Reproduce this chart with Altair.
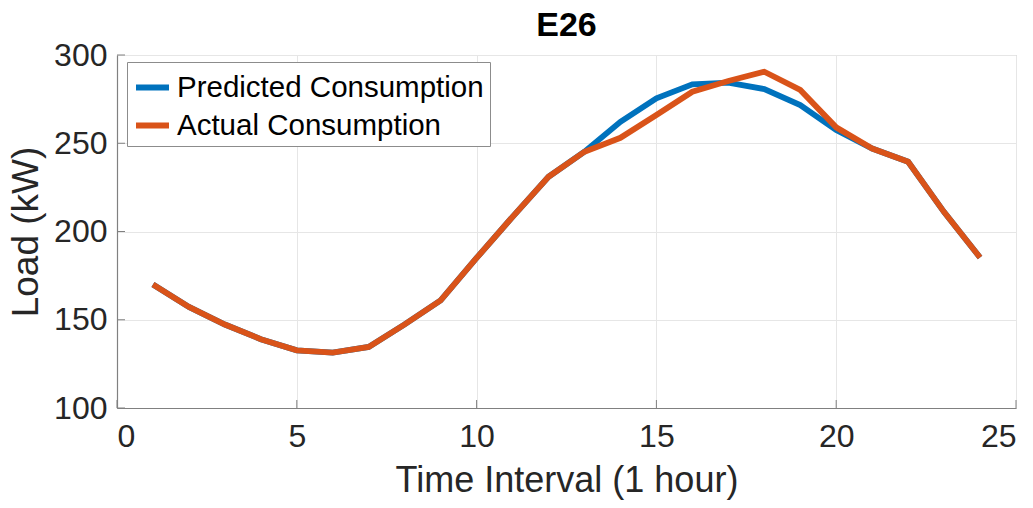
import altair as alt
import pandas as pd

hours = list(range(1, 25))
actual = [170, 157.3, 147.3, 139.0, 132.7, 131.4, 134.6, 147.4, 161, 185, 208.3, 231,
          245.2, 253.1, 266, 279.2, 285.3, 290.5, 280.2, 259, 247, 239.5, 211, 185.3]
predicted = [170, 157.3, 147.3, 139.0, 132.7, 131.4, 134.6, 147.4, 161, 185, 208.3, 231,
             245.2, 262.2, 275.4, 283.4, 284.3, 280.7, 271.6, 257.5, 247, 239.5, 211, 185.3]
series = ["Predicted Consumption", "Actual Consumption"]
colors = ["#0072BD", "#D95319"]
x_ticks = [0, 5, 10, 15, 20, 25]
y_ticks = [100, 150, 200, 250, 300]

df = pd.DataFrame({
    "hour": hours * 2,
    "load": predicted + actual,
    "series": [series[0]] * 24 + [series[1]] * 24,
    "order": [0] * 24 + [1] * 24,
})
xt = pd.DataFrame({"hour": x_ticks})
yt = pd.DataFrame({"load": y_ticks})

FONT = "Liberation Sans"
TXT = "#262626"

xscale = alt.Scale(domain=[0, 25], nice=False)
yscale = alt.Scale(domain=[100, 300], nice=False, zero=False)

lines = alt.Chart(df).mark_line(strokeWidth=5.8, strokeJoin="miter", strokeCap="butt").encode(
    x=alt.X("hour:Q", scale=xscale,
            axis=alt.Axis(values=x_ticks, title="Time Interval (1 hour)",
                          titleFontSize=36, titleFontWeight="normal", titlePadding=11,
                          labelFontSize=32, labelPadding=13)),
    y=alt.Y("load:Q", scale=yscale,
            axis=alt.Axis(values=y_ticks, title="Load (kW)",
                          titleFontSize=37, titleFontWeight="normal", titlePadding=8,
                          labelFontSize=32, labelPadding=10)),
    color=alt.Color("series:N", scale=alt.Scale(domain=series, range=colors),
                    legend=alt.Legend(title=None, orient="none", legendX=10, legendY=7,
                                      strokeColor="#8c8c8c", fillColor="white",
                                      padding=6, labelFontSize=29.5, symbolType="stroke",
                                      symbolStrokeWidth=6, symbolSize=1089, rowPadding=4,
                                      labelOffset=5, labelColor="#000000", labelLimit=600)),
    order="order:Q",
    detail="series:N",
)

xtick_marks = alt.Chart(xt).mark_rule(color="#808080", strokeWidth=1).encode(
    x=alt.X("hour:Q", scale=xscale), y=alt.value(353), y2=alt.value(345))
ytick_marks = alt.Chart(yt).mark_rule(color="#808080", strokeWidth=1).encode(
    y=alt.Y("load:Q", scale=yscale), x=alt.value(0), x2=alt.value(8))

chart = alt.layer(lines, xtick_marks, ytick_marks).properties(
    width=899, height=353,
    title=alt.Title("E26", fontSize=34, fontWeight="bold", color="#000000", offset=1, dy=5),
    autosize=alt.AutoSizeParams(type="none"),
    padding={"left": 109, "top": 47, "right": 9, "bottom": 92},
).configure(font=FONT).configure_axis(
    grid=True, gridColor="#e6e6e6", gridWidth=1, domainColor="#808080", domainWidth=1.2,
    ticks=False, labelColor=TXT, titleColor=TXT, labelFont=FONT, titleFont=FONT,
).configure_view(stroke="#bdbdbd", strokeWidth=1)

chart.save("out.html", embed_options={"renderer": "svg", "actions": False})
